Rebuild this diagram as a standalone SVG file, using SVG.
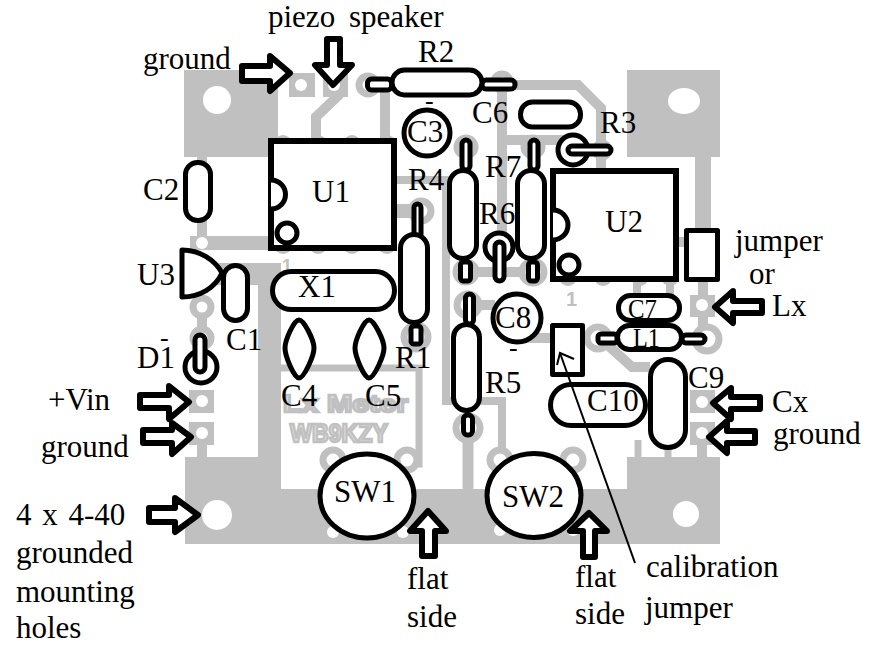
<svg xmlns="http://www.w3.org/2000/svg" width="875" height="645" viewBox="0 0 875 645">
<style>
text{font-family:"Liberation Serif","Times New Roman",serif;font-size:31px;fill:#000}
.s{font-size:26px}
.b{fill:#c0c0c0;stroke:none}
.h{fill:#fff;stroke:none}
.t{fill:none;stroke:#c0c0c0;stroke-width:8}
.r{fill:#fff;stroke:#c0c0c0;stroke-width:7}
.k{fill:#fff;stroke:#000;stroke-width:5;stroke-linejoin:round}
.ic{fill:#fff;stroke:#000;stroke-width:6;stroke-linejoin:miter}
.a{fill:#fff;stroke:#000;stroke-width:6;stroke-linejoin:round}
.silk{font-family:"Liberation Sans",Arial,sans-serif;font-weight:bold;font-size:24px;fill:#e2e2e2;stroke:#c0c0c0;stroke-width:2.500}
</style>
<rect width="875" height="645" fill="#fff"/>
<g id="board">
<rect class="b" x="184" y="70" width="94" height="87"/>
<rect class="b" x="627" y="70" width="93" height="87"/>
<path class="b" d="M185,457H258V263H281V489H627V457H720V544H185Z"/>
<path class="b" d="M215,263H281V285H215Z"/>
<rect class="b" x="289" y="73" width="26" height="24"/>
<rect class="b" x="323" y="73" width="25" height="24"/>
<rect class="b" x="189" y="390" width="25" height="23"/>
<rect class="b" x="189" y="422" width="25" height="23"/>
<rect class="b" x="690" y="295" width="25" height="22"/>
<rect class="b" x="690" y="390" width="25" height="23"/>
<rect class="b" x="690" y="422" width="25" height="23"/>
</g>
<g id="traces">
<path class="t" style="stroke-width:10" d="M340,94 L316,117 V142"/>
<path class="t" style="stroke-width:10" d="M385,85 V142"/>
<path class="t" style="stroke-width:10" d="M500,85 H578 L601,108 V170"/>
<path class="t" style="stroke-width:10" d="M502,78 V140 H570"/>
<path class="t" style="stroke-width:16" d="M703,157 V232"/>
<path class="t" style="stroke-width:10" d="M202,157 V240"/>
<path class="t" style="stroke-width:14" d="M190,243 H272"/>
<path class="t" style="stroke-width:10" d="M202,300 V340"/>
<path class="t" style="stroke-width:10" d="M202,445 V460"/>
<path class="t" d="M396,180 H446 V401 H502 V457"/>
<path class="t" style="stroke-width:14" d="M396,211 H424"/>
<path class="t" style="stroke-width:7" d="M281,368 H419 V464 H407"/>
<path class="t" style="stroke-width:10" d="M502,145 V255"/>
<path class="t" style="stroke-width:10" d="M466,272 H533"/>
<path class="t" style="stroke-width:10" d="M468,305 H495"/>
<path class="t" style="stroke-width:10" d="M520,338 H600 L632,367 H650"/>
<path class="t" style="stroke-width:11" d="M468,428 V490"/>
<path class="t" style="stroke-width:10" d="M703,280 V340"/>
<path class="t" style="stroke-width:10" d="M702,440 V460"/>
<path class="t" style="stroke-width:7" d="M638,440 V460"/>
<path class="t" style="stroke-width:7" d="M668,445 V460"/>
<path class="t" style="stroke-width:8" d="M637,280 V296M670,280 V296"/>
<path class="t" style="stroke-width:10" d="M675,242 H690"/>
</g>
<g id="pads">
<circle class="b" cx="283" cy="144" r="9"/>
<circle class="b" cx="318" cy="144" r="9"/>
<circle class="b" cx="352" cy="144" r="9"/>
<circle class="b" cx="387" cy="144" r="9"/>
<circle class="b" cx="283" cy="245" r="9"/>
<circle class="b" cx="318" cy="245" r="9"/>
<circle class="b" cx="352" cy="245" r="9"/>
<circle class="b" cx="387" cy="245" r="9"/>
<circle class="b" cx="568" cy="277" r="9"/>
<circle class="b" cx="603" cy="277" r="9"/>
<circle class="b" cx="640" cy="277" r="9"/>
<circle class="b" cx="670" cy="277" r="9"/>
<circle class="r" cx="368" cy="85" r="9"/>
<circle class="r" cx="502" cy="82" r="8"/>
<circle class="r" cx="466" cy="147" r="9"/>
<circle class="r" cx="533" cy="147" r="9"/>
<circle class="r" cx="602" cy="150" r="7"/>
<circle class="r" cx="202" cy="307" r="9"/>
<circle class="r" cx="202" cy="338" r="9"/>
<circle class="r" cx="421" cy="211" r="10"/>
<circle class="r" cx="416" cy="337" r="12"/>
<circle class="r" cx="466" cy="272" r="10"/>
<circle class="r" cx="533" cy="272" r="11"/>
<circle class="r" cx="468" cy="305" r="11"/>
<circle class="r" cx="468" cy="428" r="12"/>
<circle class="r" cx="333" cy="460" r="10"/>
<circle class="r" cx="407" cy="460" r="10"/>
<circle class="r" cx="500" cy="460" r="10"/>
<circle class="r" cx="573" cy="460" r="10"/>
<circle class="r" cx="707" cy="339" r="12"/>
<circle class="r" cx="598" cy="338" r="11"/>
<circle class="h" cx="217" cy="100" r="14"/>
<ellipse class="h" cx="684" cy="101" rx="16" ry="13"/>
<circle class="h" cx="217" cy="515" r="15"/>
<circle class="h" cx="686" cy="514" r="13"/>
<circle class="h" cx="301" cy="85" r="6"/>
<circle class="h" cx="334" cy="85" r="6"/>
<circle class="h" cx="202" cy="401" r="6"/>
<circle class="h" cx="202" cy="433" r="6"/>
<circle class="h" cx="702" cy="305" r="6"/>
<circle class="h" cx="702" cy="402" r="6"/>
<circle class="h" cx="702" cy="433" r="6"/>
<circle class="h" cx="202" cy="243" r="6"/>
<circle class="h" cx="333" cy="532" r="6"/>
<circle class="h" cx="403" cy="532" r="6"/>
<circle class="h" cx="500" cy="530" r="6"/>
<circle class="h" cx="573" cy="530" r="6"/>
<text x="282" y="272" style="font-family:'Liberation Sans',sans-serif;font-weight:bold;font-size:18px;fill:#c0c0c0">1</text>
<text x="566" y="306" style="font-family:'Liberation Sans',sans-serif;font-weight:bold;font-size:20px;fill:#c0c0c0">1</text>
<text class="silk" x="283" y="412" textLength="125" lengthAdjust="spacingAndGlyphs">Lx Meter</text>
<text class="silk" x="290" y="442" textLength="98" lengthAdjust="spacingAndGlyphs" style="font-size:26px">WB9KZY</text>
</g>
<g id="R2"><rect class="k" x="367.500" y="79" width="24" height="11" rx="4"/><rect class="k" x="482" y="80" width="33" height="9" rx="4"/><rect class="k" x="392" y="70" width="90" height="25" rx="12.500"/><text x="418" y="62">R2</text></g>
<g id="C3"><circle class="k" cx="427" cy="133" r="23"/><text x="407" y="142">C3</text><text x="425" y="109" class="s">-</text></g>
<g id="C6"><rect class="k" x="520.500" y="102" width="60" height="25" rx="12"/><text x="472" y="123">C6</text></g>
<g id="R3"><circle class="k" cx="573" cy="150" r="15"/><rect class="k" x="568" y="146" width="43" height="8" rx="4"/><text x="600" y="133">R3</text></g>
<g id="U1"><rect class="ic" x="271" y="141" width="123" height="107"/><path class="k" d="M271,180 A14,14 0 0 1 271,209"/><circle class="k" cx="287" cy="233" r="10"/><text x="312" y="202">U1</text></g>
<g id="U2"><rect class="ic" x="553" y="171" width="123" height="108"/><path class="k" d="M553,210 A14,14 0 0 1 553,240"/><circle class="k" cx="569" cy="265" r="10"/><text x="605" y="232">U2</text></g>
<g id="jumper"><rect class="k" x="686.500" y="230.500" width="31" height="49"/><text x="735" y="251">jumper</text><text x="749" y="284">or</text></g>
<g id="C2"><rect class="k" x="185.500" y="162.500" width="25" height="58" rx="12"/><text x="143" y="200">C2</text></g>
<g id="U3"><path class="k" d="M182,250 V297 C200,297 215,288 222,273 C215,260 200,250 182,250Z"/><text x="137" y="285">U3</text></g>
<g id="C1"><rect class="k" x="223.500" y="265.500" width="24" height="55" rx="12"/><text x="226" y="350">C1</text></g>
<g id="X1"><rect class="k" x="272.500" y="271.500" width="122" height="38" rx="19"/><text x="298" y="297">X1</text></g>
<g id="R4"><rect class="k" x="414" y="204" width="7" height="34" rx="3.500"/><rect class="k" x="411" y="326" width="10" height="18" rx="3"/><rect class="k" x="400.500" y="234.500" width="27" height="88" rx="13.500"/><text x="408" y="190">R4</text><text x="395" y="368">R1</text></g>
<g id="C4"><path class="k" d="M299,320 C304,320 314,340 314,348 C314,356 304,378 299,378 C294,378 285,356 285,348 C285,340 294,320 299,320Z"/><text x="281" y="406">C4</text></g>
<g id="C5"><path class="k" d="M369,320 C374,320 384,340 384,348 C384,356 374,378 369,378 C364,378 355,356 355,348 C355,340 364,320 369,320Z"/><text x="365" y="406">C5</text></g>
<g id="D1"><circle class="k" cx="201" cy="367" r="16"/><rect class="k" x="195" y="335" width="10" height="37" rx="5"/><text x="137" y="368">D1</text><text x="160" y="346" class="s">-</text></g>
<g id="R-left"><rect class="k" x="462" y="140" width="8" height="30" rx="4"/><rect class="k" x="460.500" y="262" width="10" height="19" rx="3"/><rect class="k" x="449.500" y="170.500" width="27" height="88" rx="13.500"/></g>
<g id="R7"><rect class="k" x="530" y="140" width="8" height="30" rx="4"/><rect class="k" x="528.500" y="262" width="9" height="19" rx="3"/><rect class="k" x="517.500" y="170.500" width="27" height="88" rx="13.500"/><text x="485" y="177">R7</text></g>
<g id="R6"><circle class="k" cx="499" cy="247" r="14"/><rect class="k" x="495" y="242" width="9" height="39" rx="4.500"/><text x="479" y="224">R6</text></g>
<g id="R5"><rect class="k" x="465.500" y="294" width="8" height="30" rx="4"/><rect class="k" x="463.500" y="415" width="9" height="20" rx="4"/><rect class="k" x="453.500" y="324.500" width="26" height="86" rx="13"/><text x="485" y="393">R5</text></g>
<g id="C8"><circle class="k" cx="517" cy="318" r="24"/><text x="495" y="328">C8</text><text x="509" y="356" class="s">-</text></g>
<g id="cal-jumper"><rect class="k" x="552.500" y="325.500" width="30" height="49"/></g>
<g id="L1"><rect class="k" x="598" y="334" width="19" height="9" rx="3"/><rect class="k" x="682" y="335" width="23" height="8" rx="4"/><rect class="k" x="617.500" y="325.500" width="64" height="24" rx="12"/><text x="633" y="347" textLength="27" lengthAdjust="spacingAndGlyphs" style="font-size:27px">L1</text></g>
<g id="C7"><rect class="k" x="618.500" y="295.500" width="61" height="25" rx="12"/><text x="628" y="318" textLength="29" lengthAdjust="spacingAndGlyphs" style="font-size:27px">C7</text></g>
<g id="C10"><rect class="k" x="550.500" y="384.500" width="95" height="41" rx="20.500"/><text x="587" y="411">C10</text></g>
<g id="C9"><rect class="k" x="650.500" y="359.500" width="35" height="88" rx="17.500"/><text x="688" y="388">C9</text></g>
<g id="SW1"><ellipse class="k" cx="367" cy="496" rx="47" ry="42"/><text x="334" y="502">SW1</text></g>
<g id="SW2"><ellipse class="k" cx="534" cy="495.500" rx="47" ry="42"/><text x="502" y="507">SW2</text></g>
<g id="connectors">
<polygon class="a" points="242,66 270,66 270,56 290,73 270,91 270,81 242,81"/>
<polygon class="a" points="327,39 340,39 340,65 352,65 333,85 315,65 327,65"/>
<polygon class="a" points="140,395 169,395 169,386 189,402 169,419 169,408 140,408"/>
<polygon class="a" points="143,430 172,430 172,423 191,437 172,454 172,443 143,443"/>
<polygon class="a" points="149,508 175,508 175,498 198,515 175,532 175,522 149,522"/>
<polygon class="a" points="762,301 733,301 733,291 715,307 733,323 733,313 762,313"/>
<polygon class="a" points="760,397 731,397 731,388 713,403 731,419 731,409 760,409"/>
<polygon class="a" points="755,431 727,431 727,421 709,437 727,453 727,443 755,443"/>
<polygon class="a" points="422,556 435,556 435,531 446,531 428,511 410,531 422,531"/>
<polygon class="a" points="583,557 595,557 595,531 607,531 589,513 570,531 583,531"/>
<g fill="none" stroke="#000" stroke-width="2"><path d="M560,353 L635,563"/><path d="M557,365 L560,353 L574,359"/></g>
</g>
<g id="labels">
<text x="268" y="27" style="word-spacing:6px">piezo speaker</text>
<text x="143" y="69">ground</text>
<text x="48" y="410">+Vin</text>
<text x="41" y="457">ground</text>
<text x="16" y="525" style="word-spacing:3px">4 x 4-40</text>
<text x="16" y="563">grounded</text>
<text x="16" y="602">mounting</text>
<text x="16" y="638">holes</text>
<text x="772" y="316">Lx</text>
<text x="772" y="412">Cx</text>
<text x="773" y="444">ground</text>
<text x="407" y="589">flat</text>
<text x="407" y="627">side</text>
<text x="575" y="587">flat</text>
<text x="575" y="624">side</text>
<text x="646" y="577">calibration</text>
<text x="645" y="618">jumper</text>
</g>
</svg>
